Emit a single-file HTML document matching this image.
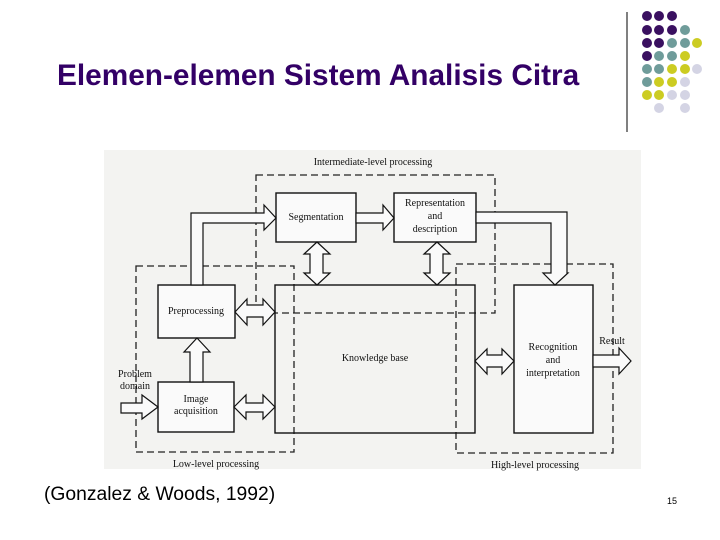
<!DOCTYPE html>
<html><head><meta charset="utf-8"><style>
body{margin:0;width:720px;height:540px;background:#fff;overflow:hidden;position:relative;font-family:"Liberation Sans",Arial,sans-serif}
.t{position:absolute;left:57px;top:59px;font-size:29.8px;font-weight:bold;color:#330066;white-space:nowrap}
.c{position:absolute;left:44px;top:484px;font-size:19.3px;color:#000;white-space:nowrap}
.n{position:absolute;left:667px;top:496px;font-size:9px;color:#000}
</style></head><body>
<div class="t">Elemen-elemen Sistem Analisis Citra</div>
<div class="c">(Gonzalez &amp; Woods, 1992)</div>
<div class="n">15</div>
<svg width="720" height="540" style="position:absolute;left:0;top:0">
<line x1="627" y1="12" x2="627" y2="132" stroke="#000" stroke-width="1"/>
<g>
<circle cx="647" cy="16" r="5" fill="#3a1060"/><circle cx="659" cy="16" r="5" fill="#3a1060"/><circle cx="672" cy="16" r="5" fill="#3a1060"/>
<circle cx="647" cy="30" r="5" fill="#3a1060"/><circle cx="659" cy="30" r="5" fill="#3a1060"/><circle cx="672" cy="30" r="5" fill="#3a1060"/><circle cx="685" cy="30" r="5" fill="#6f9c9a"/>
<circle cx="647" cy="43" r="5" fill="#3a1060"/><circle cx="659" cy="43" r="5" fill="#3a1060"/><circle cx="672" cy="43" r="5" fill="#6f9c9a"/><circle cx="685" cy="43" r="5" fill="#6f9c9a"/><circle cx="697" cy="43" r="5" fill="#cccc22"/>
<circle cx="647" cy="56" r="5" fill="#3a1060"/><circle cx="659" cy="56" r="5" fill="#6f9c9a"/><circle cx="672" cy="56" r="5" fill="#6f9c9a"/><circle cx="685" cy="56" r="5" fill="#cccc22"/>
<circle cx="647" cy="69" r="5" fill="#6f9c9a"/><circle cx="659" cy="69" r="5" fill="#6f9c9a"/><circle cx="672" cy="69" r="5" fill="#cccc22"/><circle cx="685" cy="69" r="5" fill="#cccc22"/><circle cx="697" cy="69" r="5" fill="#d4d4e4"/>
<circle cx="647" cy="82" r="5" fill="#6f9c9a"/><circle cx="659" cy="82" r="5" fill="#cccc22"/><circle cx="672" cy="82" r="5" fill="#cccc22"/><circle cx="685" cy="82" r="5" fill="#d4d4e4"/>
<circle cx="647" cy="95" r="5" fill="#cccc22"/><circle cx="659" cy="95" r="5" fill="#cccc22"/><circle cx="672" cy="95" r="5" fill="#d4d4e4"/><circle cx="685" cy="95" r="5" fill="#d4d4e4"/>
<circle cx="659" cy="108" r="5" fill="#d4d4e4"/><circle cx="685" cy="108" r="5" fill="#d4d4e4"/>
</g>
<rect x="104" y="150" width="537" height="319" fill="#f3f3f1"/>
<g fill="none" stroke="#222" stroke-width="1.3" stroke-dasharray="7,4">
<rect x="256" y="175" width="239" height="138"/>
<rect x="136" y="266" width="158" height="186"/>
<rect x="456" y="264" width="157" height="189"/>
</g>
<g fill="#fafafa" stroke="#111" stroke-width="1.4">
<rect x="276" y="193" width="80" height="49"/>
<rect x="394" y="193" width="82" height="49"/>
<rect x="275" y="285" width="200" height="148" fill="none"/>
<rect x="158" y="285" width="77" height="53"/>
<rect x="158" y="382" width="76" height="50"/>
<rect x="514" y="285" width="79" height="148"/>
</g>
<g fill="#fafafa" stroke="#111" stroke-width="1.2">
<polygon points="191,285 191,213 264,213 264,205 276,218 264,230 264,223 203,223 203,285"/>
<polygon points="356,213 383,213 383,205 394,218 383,230 383,223 356,223"/>
<polygon points="476,212 567,212 567,273 568,273 555,285 543,273 551,273 551,223 476,223"/>
<polygon points="317,242 330,254 323,254 323,273 330,273 317,285 304,273 310,273 310,254 304,254"/>
<polygon points="437,242 450,254 443,254 443,273 450,273 437,285 424,273 430,273 430,254 424,254"/>
<polygon points="235,312 247,299 247,305 263,305 263,299 275,312 263,325 263,317 247,317 247,325"/>
<polygon points="234,407 246,395 246,403 263,403 263,395 275,407 263,419 263,412 246,412 246,419"/>
<polygon points="475,361 487,349 487,355 502,355 502,349 514,361 502,374 502,367 487,367 487,374"/>
<polygon points="197,338 210,352 203,352 203,382 190,382 190,352 184,352"/>
<polygon points="121,403 142,403 142,395 158,407 142,419 142,413 121,413"/>
<polygon points="593,355 619,355 619,348 631,361 619,374 619,367 593,367"/>
</g>
<g font-family="Liberation Serif,serif" font-size="10" fill="#111" text-anchor="middle">
<text x="373" y="165">Intermediate-level processing</text>
<text x="216" y="467">Low-level processing</text>
<text x="535" y="468">High-level processing</text>
<text x="316" y="220">Segmentation</text>
<text x="435" y="206">Representation</text>
<text x="435" y="219">and</text>
<text x="435" y="232">description</text>
<text x="196" y="314">Preprocessing</text>
<text x="196" y="402">Image</text>
<text x="196" y="414">acquisition</text>
<text x="375" y="361">Knowledge base</text>
<text x="553" y="350">Recognition</text>
<text x="553" y="363">and</text>
<text x="553" y="376">interpretation</text>
<text x="612" y="344">Result</text>
<text x="135" y="377">Problem</text>
<text x="135" y="389">domain</text>
</g>
</svg>
</body></html>
